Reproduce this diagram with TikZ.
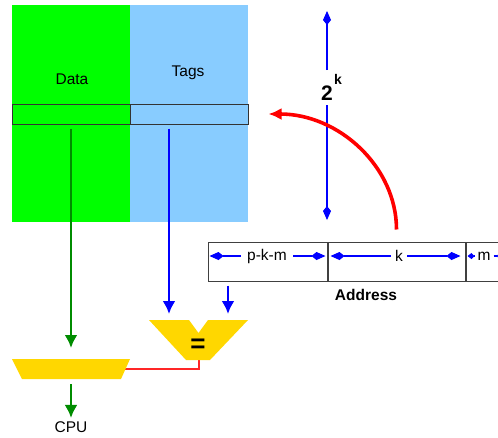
\documentclass[tikz,border=0pt]{standalone}
\usepackage{fontspec}
\setmainfont{Liberation Sans}
\usetikzlibrary{arrows.meta,positioning}
\definecolor{datagreen}{RGB}{0,255,0}
\definecolor{tagblue}{RGB}{136,204,255}
\definecolor{wiregreen}{RGB}{0,140,0}
\definecolor{muxgold}{RGB}{255,215,0}

\begin{document}
\begin{tikzpicture}[x=1pt,y=-1pt,
    lbl/.style={font=\fontsize{15.5}{17}\selectfont},
    rowbox/.style={draw=black!80,line width=1pt,minimum width=118pt,minimum height=20pt,inner sep=0pt},
    fieldbox/.style={draw=black!75,line width=1pt,minimum height=39pt,inner sep=0pt},
    garrow/.style={-{Latex[length=13pt,width=13pt]},line width=2.8pt,wiregreen},
    barrow/.style={-{Latex[length=13pt,width=13pt]},line width=2.8pt,blue},
    dimarrow/.style={-{Kite[length=14pt,width=8pt,inset=5pt]},blue,line width=1.1pt},
    shortdim/.style={-{Kite[length=7pt,width=6pt,inset=3pt]},blue,line width=1.1pt}]
  \useasboundingbox (0,0) rectangle (498,437);
  \clip (0,0) rectangle (498,437);

  \fill[datagreen] (12,5) rectangle (130,222);
  \fill[tagblue] (130,5) rectangle (248,222);
  \node[rowbox] (datarow) at (71,114) {};
  \node[rowbox] (tagrow) at (189,114) {};
  \node[lbl] (datalbl) at (72,79) {Data};
  \node[lbl] (taglbl) at (188,73) {Tags};

  \node[font=\bfseries\fontsize{21}{22}\selectfont] (two) at (327,93) {2};
  \node[font=\bfseries\fontsize{14}{15}\selectfont] (kexp) at (338,79) {k};
  \coordinate (ktop) at (327,11);
  \coordinate (kbot) at (327,220);
  \coordinate (kup) at (327,70);
  \coordinate (kdown) at (327,105);
  \draw[dimarrow] (kup) -- (ktop);
  \draw[dimarrow] (kdown) -- (kbot);

  \node[fieldbox,minimum width=119pt] (fpkm) at (267.5,261.5) {};
  \node[fieldbox,minimum width=137pt,right=0pt of fpkm] (fk) {};
  \node[fieldbox,minimum width=70pt,right=0pt of fk] (fm) {};
  \node[lbl] (pkmlbl) at (267,256) {p-k-m};
  \node[lbl] (klbl) at (399,256) {k};
  \node[lbl,inner sep=1pt] (mlbl) at (484,256) {m};
  \node[lbl,font=\bfseries\fontsize{15.5}{17}\selectfont] (addr) at (366,295) {Address};
  \draw[dimarrow] ([xshift=-3pt]pkmlbl.west) -- ([xshift=2pt]fpkm.west |- pkmlbl);
  \draw[dimarrow] ([xshift=3pt]pkmlbl.east) -- ([xshift=-2pt]fpkm.east |- pkmlbl);
  \draw[dimarrow] ([xshift=-1pt]klbl.west) -- ([xshift=3pt]fk.west |- klbl);
  \draw[dimarrow] ([xshift=1pt]klbl.east) -- ([xshift=-5pt]fk.east |- klbl);
  \draw[shortdim] ([xshift=-2pt]mlbl.west) -- ([xshift=2pt]fm.west |- mlbl);
  \draw[shortdim] ([xshift=2pt]mlbl.east) -- ([xshift=12pt]mlbl.east);

  \draw[-{Latex[length=13pt,width=12pt]},red,line width=3.6pt]
    ([yshift=12pt]fk.north) .. controls +(0,-63) and +(70,0) .. ([xshift=20pt]tagrow.east);

  \coordinate (muxin) at (71,359);
  \coordinate (muxout) at (71,379);
  \coordinate (muxsel) at (124,369);
  \coordinate (cmpin1) at (169,320);
  \coordinate (cmpin2) at (228,320);
  \coordinate (cmpout) at (199,360);
  \draw[red!85,line width=1.1pt] (muxsel) -| (cmpout);
  \fill[muxgold] (12,359) -- (130,359) -- (121,379) -- (22,379) -- cycle;
  \fill[muxgold] (149,320) -- (189,320) -- (198.5,333) -- (208,320) -- (248,320)
    -- (210,360) -- (186,360) -- cycle;
  \node[font=\bfseries\fontsize{26}{26}\selectfont] (eq) at (198,346) {=};
  \node[lbl] (cpu) at (71,427) {CPU};

  \draw[garrow,shorten <=4pt,shorten >=11pt] (datarow.south) -- (muxin);
  \draw[barrow,shorten <=4pt,shorten >=6pt] (tagrow.south -| cmpin1) -- (cmpin1);
  \draw[barrow,shorten <=4pt,shorten >=6pt] (fpkm.south -| cmpin2) -- (cmpin2);
  \draw[garrow,shorten <=5pt,shorten >=0pt] (muxout) -- (cpu.north);
\end{tikzpicture}
\end{document}
